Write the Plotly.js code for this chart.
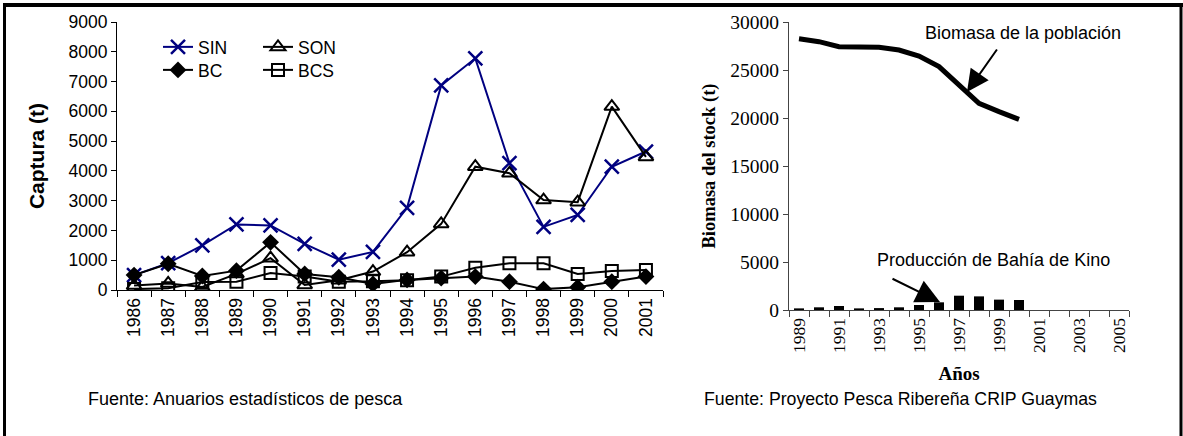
<!DOCTYPE html>
<html>
<head>
<meta charset="utf-8">
<script src="https://cdn.plot.ly/plotly-3.0.1.min.js"></script>
<style>html,body{margin:0;padding:0;background:#fff;}#chart{width:1183px;height:436px;}</style>
</head>
<body>
<div id="chart"></div>
<script>
// Left chart: captura por estado (t)
const years = ['1986','1987','1988','1989','1990','1991','1992','1993','1994','1995','1996','1997','1998','1999','2000','2001'];
const sin = [500, 900, 1500, 2200, 2170, 1550, 1020, 1280, 2760, 6870, 7780, 4260, 2120, 2520, 4140, 4650];
const son = [150, 220, 100, 540, 1070, 170, 330, 620, 1270, 2220, 4140, 3920, 3020, 2950, 6160, 4470];
const bc  = [500, 880, 470, 650, 1600, 540, 430, 200, 340, 400, 450, 280, 30, 90, 280, 450];
const bcs = [30, 60, 270, 280, 570, 450, 280, 290, 330, 450, 750, 895, 895, 540, 640, 670];

// Right chart: biomasa del stock y producción de Bahía de Kino (t)
const stockYears = [1989, 1990, 1991, 1992, 1993, 1994, 1995, 1996, 1997, 1998, 1999, 2000];
const biomasa = [28250, 27950, 27430, 27400, 27360, 27080, 26460, 25350, 23400, 21530, 20660, 19860];
const produccion = [170, 280, 420, 170, 200, 280, 520, 800, 1490, 1420, 1080, 1040];
const rightTickYears = [1989, 1991, 1993, 1995, 1997, 1999, 2001, 2003, 2005];

const SANS = 'Liberation Sans, Arial, sans-serif';
const SERIF = 'Liberation Serif, Times New Roman, serif';
const W = 1183, H = 436;
const px = v => v / W;
const py = v => 1 - v / H;

const traces = [
  {x: years, y: sin, name: 'SIN', type: 'scatter', mode: 'lines+markers', xaxis: 'x', yaxis: 'y', legend: 'legend',
   line: {color: '#000080', width: 2}, marker: {symbol: 'x-thin-open', size: 14, color: '#000080', line: {color: '#000080', width: 2.5}}},
  {x: years, y: son, name: 'SON', type: 'scatter', mode: 'lines+markers', xaxis: 'x', yaxis: 'y', legend: 'legend',
   line: {color: '#000', width: 2}, marker: {symbol: 'triangle-up-open', size: 13, color: '#000', line: {color: '#000', width: 2}}},
  {x: years, y: bc, name: 'BC', type: 'scatter', mode: 'lines+markers', xaxis: 'x', yaxis: 'y', legend: 'legend2',
   line: {color: '#000', width: 2}, marker: {symbol: 'diamond', size: 13, color: '#000'}},
  {x: years, y: bcs, name: 'BCS', type: 'scatter', mode: 'lines+markers', xaxis: 'x', yaxis: 'y', legend: 'legend2',
   line: {color: '#000', width: 2}, marker: {symbol: 'square-open', size: 12, color: '#000', line: {color: '#000', width: 2}}},
  {x: stockYears, y: produccion, name: 'Producción', type: 'bar', xaxis: 'x2', yaxis: 'y2', showlegend: false,
   width: 0.5, marker: {color: '#000'}},
  {x: stockYears, y: biomasa, name: 'Biomasa', type: 'scatter', mode: 'lines', xaxis: 'x2', yaxis: 'y2', showlegend: false,
   line: {color: '#000', width: 5}}
];

const layout = {
  width: W, height: H,
  margin: {l: 0, r: 0, t: 0, b: 0},
  paper_bgcolor: '#fff', plot_bgcolor: 'rgba(0,0,0,0)',
  font: {family: SANS, size: 17, color: '#000'},
  showlegend: true,
  xaxis: {
    domain: [px(117), px(663)], anchor: 'y', type: 'category', range: [-0.5, 15.5],
    tickson: 'boundaries', ticks: 'outside', ticklen: 6, tickcolor: '#000', tickangle: -90,
    showline: true, linecolor: '#000', linewidth: 1, showgrid: false, zeroline: false,
    tickfont: {family: SANS, size: 17.5}
  },
  yaxis: {
    domain: [py(290), py(22)], anchor: 'x', range: [0, 9000], dtick: 1000,
    ticks: 'outside', ticklen: 5, tickcolor: '#000', showline: true, linecolor: '#000', linewidth: 1,
    showgrid: false, zeroline: false, tickfont: {family: SANS, size: 17.5},
    title: {text: '<b>Captura (t)</b>', font: {family: SANS, size: 21}, standoff: 18}
  },
  xaxis2: {
    domain: [px(789), px(1129)], anchor: 'y2', range: [1988.5, 2005.5],
    tickvals: rightTickYears, ticktext: rightTickYears.map(String), ticks: '', tickangle: -90,
    minor: {ticks: 'outside', tick0: 1988.5, dtick: 1, ticklen: 6, tickcolor: '#444', showgrid: false},
    showline: true, linecolor: '#444', linewidth: 1, showgrid: false, zeroline: false,
    tickfont: {family: SERIF, size: 17.5},
    title: {text: '<b>Años</b>', font: {family: SERIF, size: 19}, standoff: 14}
  },
  yaxis2: {
    domain: [py(310), py(22)], anchor: 'x2', range: [0, 30000], dtick: 5000, tickformat: 'd',
    ticks: 'outside', ticklen: 5, tickcolor: '#444', showline: true, linecolor: '#444', linewidth: 1,
    showgrid: false, zeroline: false, tickfont: {family: SERIF, size: 19.5},
    title: {text: '<b>Biomasa del stock (t)</b>', font: {family: SERIF, size: 18.5}, standoff: 9}
  },
  legend: {orientation: 'h', x: px(158), xanchor: 'left', y: py(47), yanchor: 'middle',
    entrywidth: 55, font: {family: SANS, size: 17.5}, bgcolor: 'rgba(0,0,0,0)', tracegroupgap: 0, itemclick: false},
  legend2: {orientation: 'h', x: px(158), xanchor: 'left', y: py(70), yanchor: 'middle',
    entrywidth: 55, font: {family: SANS, size: 17.5}, bgcolor: 'rgba(0,0,0,0)', tracegroupgap: 0, itemclick: false},
  annotations: [
    {xref: 'x2', yref: 'y2', x: 2000.2, y: 28850, text: 'Biomasa de la población', showarrow: false,
     xanchor: 'center', font: {family: SANS, size: 18}},
    {xref: 'x2', yref: 'y2', x: 1997.4, y: 22710, text: '', showarrow: true, ax: 31, ay: -44,
     arrowhead: 2, arrowsize: 2.2, arrowwidth: 2, arrowcolor: '#000'},
    {xref: 'x2', yref: 'y2', x: 1998.7, y: 5208, text: 'Producción de Bahía de Kino', showarrow: false,
     xanchor: 'center', font: {family: SANS, size: 18}},
    {xref: 'x2', yref: 'y2', x: 1996.05, y: 830, text: '', showarrow: true, ax: -49, ay: -24,
     arrowhead: 2, arrowsize: 2.4, arrowwidth: 2, arrowcolor: '#000'},
    {xref: 'paper', yref: 'paper', x: px(245), y: py(399), text: 'Fuente: Anuarios estadísticos de pesca',
     xanchor: 'center', yanchor: 'middle', showarrow: false, font: {family: SANS, size: 18}},
    {xref: 'paper', yref: 'paper', x: px(900), y: py(399), text: 'Fuente: Proyecto Pesca Ribereña CRIP Guaymas',
     xanchor: 'center', yanchor: 'middle', showarrow: false, font: {family: SANS, size: 17.7}}
  ],
  shapes: [
    {type: 'line', xref: 'paper', yref: 'paper', x0: px(3), x1: 1, y0: py(5), y1: py(5), line: {color: '#000', width: 4}},
    {type: 'line', xref: 'paper', yref: 'paper', x0: px(4.5), x1: px(4.5), y0: 0, y1: py(5), line: {color: '#000', width: 3}},
    {type: 'line', xref: 'paper', yref: 'paper', x0: px(1181), x1: px(1181), y0: 0, y1: py(5), line: {color: '#000', width: 3}}
  ]
};

Plotly.newPlot('chart', traces, layout, {staticPlot: true, displayModeBar: false});
</script>
</body>
</html>
